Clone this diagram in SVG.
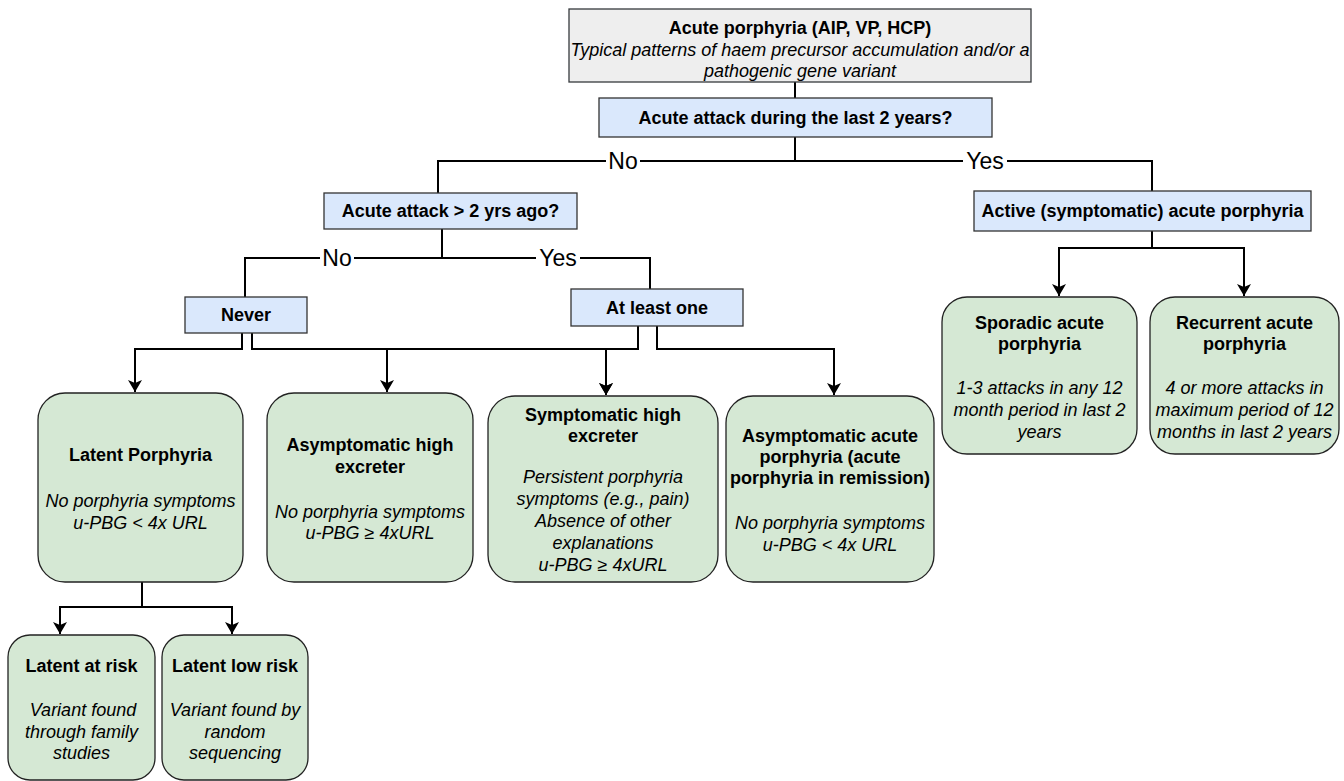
<svg xmlns="http://www.w3.org/2000/svg" width="1344" height="781" viewBox="0 0 1344 781">
<defs>
<style>
text{font-family:"Liberation Sans",Arial,Helvetica,sans-serif;font-size:18px;fill:#000;text-anchor:middle}
.b{font-weight:bold}
.i{font-style:italic}
.lbl{font-size:23px}
.gray{fill:#eeeeee;stroke:#36393d;stroke-width:1.3}
.blue{fill:#dae8fc;stroke:#333;stroke-width:1.3}
.green{fill:#d5e8d4;stroke:#222;stroke-width:1.3}
.edge{fill:none;stroke:#000;stroke-width:2}
.lb{fill:#fff}
</style>
<marker id="arr" viewBox="0 0 12 14" refX="12" refY="7" markerWidth="12" markerHeight="14" markerUnits="userSpaceOnUse" orient="auto">
<path d="M0,0 L12,7 L0,14 L3,7 z" fill="#000"/>
</marker>
</defs>
<rect width="1344" height="781" fill="#fff"/>

<g id="connectors">
<path class="edge" d="M795 82 V98"/>
<path class="edge" d="M795 137 V161 H438 V193"/>
<path class="edge" d="M795 137 V161 H1152 V191"/>
<path class="edge" d="M442 229 V258 H245 V297"/>
<path class="edge" d="M442 229 V258 H650 V289"/>
<path class="edge" d="M242 333 V349 H135 V392" marker-end="url(#arr)"/>
<path class="edge" d="M252 333 V349 H387 V392" marker-end="url(#arr)"/>
<path class="edge" d="M252 333 V349 H606 V395" marker-end="url(#arr)"/>
<path class="edge" d="M638 326 V349 H606 V395" marker-end="url(#arr)"/>
<path class="edge" d="M657 326 V349 H834 V395" marker-end="url(#arr)"/>
<path class="edge" d="M1152 231 V248 H1059 V296" marker-end="url(#arr)"/>
<path class="edge" d="M1152 231 V248 H1244 V296" marker-end="url(#arr)"/>
<path class="edge" d="M142 582 V607 H60 V634" marker-end="url(#arr)"/>
<path class="edge" d="M142 582 V607 H232 V634" marker-end="url(#arr)"/>
<rect class="lb" x="606" y="148" width="34" height="26"/>
<text class="lbl" x="623" y="169">No</text>
<rect class="lb" x="963" y="148" width="44" height="26"/>
<text class="lbl" x="985" y="169">Yes</text>
<rect class="lb" x="320" y="245" width="34" height="26"/>
<text class="lbl" x="337" y="266">No</text>
<rect class="lb" x="536" y="245" width="44" height="26"/>
<text class="lbl" x="558" y="266">Yes</text>
</g>

<g id="acute-porphyria">
<rect class="gray" x="569" y="9" width="462" height="73"/>
<text class="b" x="800" y="34">Acute porphyria (AIP, VP, HCP)</text>
<text class="i" x="800" y="56">Typical patterns of haem precursor accumulation and/or a</text>
<text class="i" x="800" y="77">pathogenic gene variant</text>
</g>

<g id="q-last-2-years">
<rect class="blue" x="599" y="98" width="393" height="39"/>
<text class="b" x="795.5" y="124">Acute attack during the last 2 years?</text>
</g>

<g id="q-more-than-2-years">
<rect class="blue" x="324" y="193" width="253" height="36"/>
<text class="b" x="450.5" y="217">Acute attack &gt; 2 yrs ago?</text>
</g>

<g id="active">
<rect class="blue" x="974" y="191" width="337" height="40"/>
<text class="b" x="1142.5" y="217">Active (symptomatic) acute porphyria</text>
</g>

<g id="never">
<rect class="blue" x="185" y="297" width="122" height="36"/>
<text class="b" x="246" y="321">Never</text>
</g>

<g id="at-least-one">
<rect class="blue" x="571" y="289" width="172" height="37"/>
<text class="b" x="657" y="314">At least one</text>
</g>

<g id="latent-porphyria">
<rect class="green" x="38" y="393" width="205" height="189" rx="27"/>
<text class="b" x="140.5" y="461">Latent Porphyria</text>
<text class="i" x="140.5" y="507">No porphyria symptoms</text>
<text class="i" x="140.5" y="529">u-PBG &lt; 4x URL</text>
</g>

<g id="asymptomatic-high-excreter">
<rect class="green" x="267" y="393" width="206" height="189" rx="27"/>
<text class="b" x="370" y="451">Asymptomatic high</text>
<text class="b" x="370" y="473">excreter</text>
<text class="i" x="370" y="518">No porphyria symptoms</text>
<text class="i" x="370" y="539">u-PBG ≥ 4xURL</text>
</g>

<g id="symptomatic-high-excreter">
<rect class="green" x="488" y="396" width="230" height="186" rx="27"/>
<text class="b" x="603" y="421">Symptomatic high</text>
<text class="b" x="603" y="442">excreter</text>
<text class="i" x="603" y="483">Persistent porphyria</text>
<text class="i" x="603" y="505">symptoms (e.g., pain)</text>
<text class="i" x="603" y="527">Absence of other</text>
<text class="i" x="603" y="549">explanations</text>
<text class="i" x="603" y="571">u-PBG ≥ 4xURL</text>
</g>

<g id="asymptomatic-acute-porphyria">
<rect class="green" x="726" y="396" width="208" height="186" rx="27"/>
<text class="b" x="830" y="442">Asymptomatic acute</text>
<text class="b" x="830" y="463">porphyria (acute</text>
<text class="b" x="830" y="484">porphyria in remission)</text>
<text class="i" x="830" y="529">No porphyria symptoms</text>
<text class="i" x="830" y="551">u-PBG &lt; 4x URL</text>
</g>

<g id="sporadic">
<rect class="green" x="942" y="297" width="195" height="157" rx="25"/>
<text class="b" x="1039.5" y="329">Sporadic acute</text>
<text class="b" x="1039.5" y="350">porphyria</text>
<text class="i" x="1039.5" y="394">1-3 attacks in any 12</text>
<text class="i" x="1039.5" y="416">month period in last 2</text>
<text class="i" x="1039.5" y="438">years</text>
</g>

<g id="recurrent">
<rect class="green" x="1150" y="297" width="189" height="157" rx="25"/>
<text class="b" x="1244.5" y="329">Recurrent acute</text>
<text class="b" x="1244.5" y="350">porphyria</text>
<text class="i" x="1244.5" y="394">4 or more attacks in</text>
<text class="i" x="1244.5" y="416">maximum period of 12</text>
<text class="i" x="1244.5" y="438">months in last 2 years</text>
</g>

<g id="latent-at-risk">
<rect class="green" x="8" y="635" width="147" height="145" rx="22"/>
<text class="b" x="81.5" y="672">Latent at risk</text>
<text class="i" x="83" y="716">Variant found</text>
<text class="i" x="81.5" y="738">through family</text>
<text class="i" x="81.5" y="759">studies</text>
</g>

<g id="latent-low-risk">
<rect class="green" x="162" y="635" width="146" height="145" rx="22"/>
<text class="b" x="235" y="672">Latent low risk</text>
<text class="i" x="235" y="716">Variant found by</text>
<text class="i" x="235" y="738">random</text>
<text class="i" x="235" y="759">sequencing</text>
</g>
</svg>
